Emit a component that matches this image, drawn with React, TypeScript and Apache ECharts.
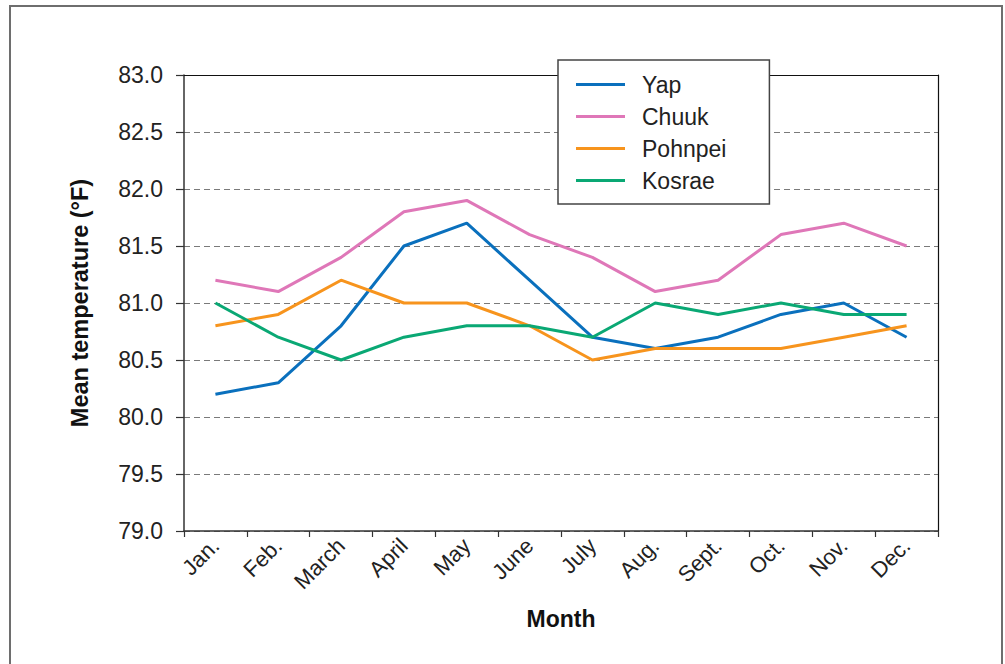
import React, { useEffect, useRef } from "react";
import * as echarts from "echarts";

const months = ["Jan.", "Feb.", "March", "April", "May", "June", "July", "Aug.", "Sept.", "Oct.", "Nov.", "Dec."];
const yap = [80.2, 80.3, 80.8, 81.5, 81.7, 81.2, 80.7, 80.6, 80.7, 80.9, 81.0, 80.7];
const chuuk = [81.2, 81.1, 81.4, 81.8, 81.9, 81.6, 81.4, 81.1, 81.2, 81.6, 81.7, 81.5];
const pohnpei = [80.8, 80.9, 81.2, 81.0, 81.0, 80.8, 80.5, 80.6, 80.6, 80.6, 80.7, 80.8];
const kosrae = [81.0, 80.7, 80.5, 80.7, 80.8, 80.8, 80.7, 81.0, 80.9, 81.0, 80.9, 80.9];
const seriesNames = ["Yap", "Chuuk", "Pohnpei", "Kosrae"];
const seriesData = [yap, chuuk, pohnpei, kosrae];
const colors = ["#0a70bd", "#df77b8", "#f7941d", "#0aa874"];

const FONT = "Liberation Sans, Arial, sans-serif";

export default function App() {
  const ref = useRef<HTMLDivElement>(null);
  useEffect(() => {
    if (!ref.current) return;
    const chart = echarts.init(ref.current, null, { renderer: "svg" });
    chart.setOption({
      animation: false,
      backgroundColor: "#ffffff",
      textStyle: { fontFamily: FONT },
      graphic: [
        {
          type: "rect",
          shape: { x: 10, y: 6, width: 992, height: 700 },
          style: { fill: "none", stroke: "#6e6e6e", lineWidth: 2 },
          silent: true,
        },
      ],
      grid: { left: 184, top: 75, width: 754, height: 456, containLabel: false },
      legend: {
        orient: "vertical",
        left: 558,
        top: 60,
        data: seriesNames,
        icon: "rect",
        backgroundColor: "#ffffff",
        borderColor: "#444",
        borderWidth: 1.5,
        padding: [13, 43, 12, 18],
        itemWidth: 49,
        itemHeight: 3,
        itemGap: 9,
        textStyle: { fontSize: 23, color: "#222", fontFamily: FONT, padding: [0, 0, 0, 12] },
        z: 10,
      },
      xAxis: [
        {
          type: "category",
          data: months,
          boundaryGap: true,
          axisLine: { lineStyle: { color: "#333", width: 1.5 } },
          axisTick: { show: true, length: 6, alignWithLabel: false, lineStyle: { color: "#333", width: 1.2 } },
          axisLabel: { rotate: 45, fontSize: 22, color: "#222", margin: 11, fontFamily: FONT, interval: 0 },
          name: "Month",
          nameLocation: "middle",
          nameGap: 76,
          nameTextStyle: { fontSize: 23, fontWeight: "bold", color: "#111", fontFamily: FONT },
          splitLine: { show: false },
        },
        {
          type: "category",
          data: months,
          position: "top",
          axisLine: { show: true, lineStyle: { color: "#111", width: 1.2 } },
          axisTick: { show: false },
          axisLabel: { show: false },
          splitLine: { show: false },
        },
      ],
      yAxis: [
        {
          type: "value",
          min: 79,
          max: 83,
          interval: 0.5,
          axisLine: { show: true, lineStyle: { color: "#333", width: 1.5 } },
          axisTick: { show: true, length: 8, lineStyle: { color: "#333", width: 1.2 } },
          axisLabel: {
            fontSize: 23,
            color: "#222",
            margin: 21,
            fontFamily: FONT,
            formatter: (v: number) => v.toFixed(1),
          },
          splitLine: { show: true, lineStyle: { color: "#7a7a7a", type: [6, 4], width: 1.2 } },
          name: "Mean temperature (°F)",
          nameLocation: "middle",
          nameGap: 92,
          nameTextStyle: { fontSize: 23.5, fontWeight: "bold", color: "#111", fontFamily: FONT },
        },
        {
          type: "value",
          min: 79,
          max: 83,
          interval: 0.5,
          position: "right",
          axisLine: { show: true, lineStyle: { color: "#111", width: 1.2 } },
          axisTick: { show: false },
          axisLabel: { show: false },
          splitLine: { show: false },
        },
      ],
      series: seriesNames.map((name, i) => ({
        name,
        type: "line",
        data: seriesData[i],
        symbol: "none",
        color: colors[i],
        lineStyle: { width: 3, color: colors[i] },
        z: 5,
      })),
    });
    return () => chart.dispose();
  }, []);
  return (
    <div
      ref={ref}
      style={{ position: "fixed", left: 0, top: 0, width: 1005, height: 664, background: "#fff" }}
    />
  );
}
